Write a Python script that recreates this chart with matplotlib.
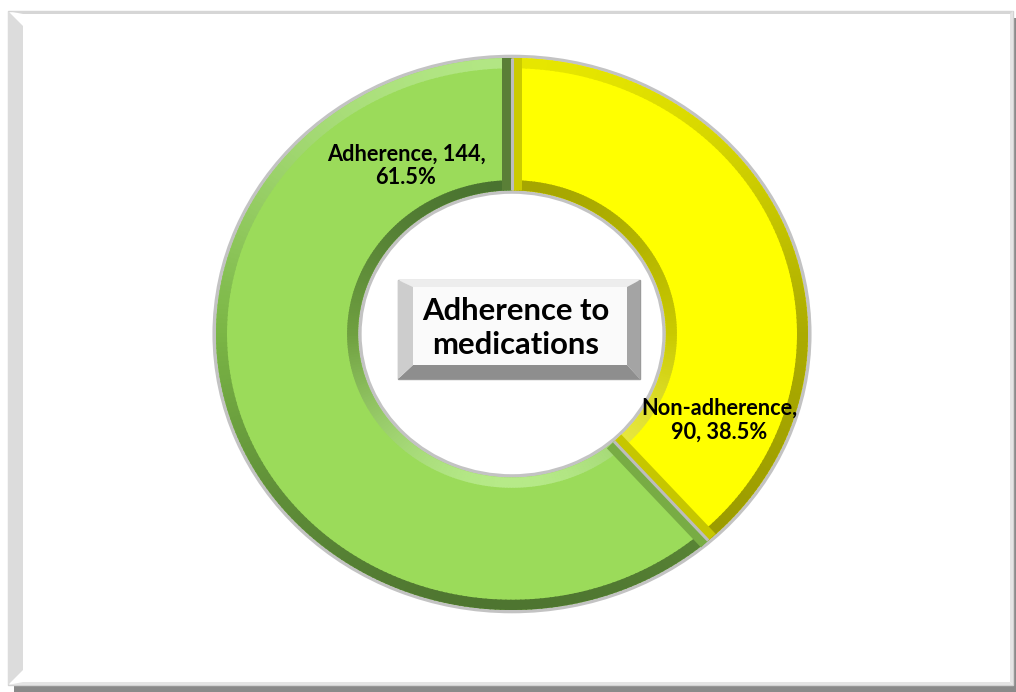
import matplotlib.pyplot as plt
import matplotlib.colors as mcolors
import numpy as np
from matplotlib.patches import Polygon, Rectangle, Wedge

# adherence counts
categories = ["Non-adherence", "Adherence"]
counts = [90, 144]
title_text = "Adherence to\nmedications"

# slice colours: main face, then outer/inner bevel ramps (dark, mid, light)
face_colors = ["#FFFF00", "#9BDB5A"]
outer_ramps = [("#969600", "#ABAB00", "#E6E600"), ("#4E7530", "#7AB545", "#B2E684")]
inner_ramps = [("#A6A600", "#CACA00", "#F2F25A"), ("#4A7330", "#6FA040", "#B6EA88")]
side_colors = ["#C6C600", ("#5A7F37", "#78AC44")]

W, H = 1016, 692
FONT = ["Lato", "DejaVu Sans"]

fig = plt.figure(figsize=(W / 100, H / 100), dpi=100)


def pixel_axes():
    a = fig.add_axes([0, 0, 1, 1])
    a.set_xlim(0, W)
    a.set_ylim(H, 0)
    a.axis("off")
    a.patch.set_alpha(0)
    return a


bg = pixel_axes()

# chart area frame with drop shadow and a light bevel
bg.add_patch(Rectangle((14, 18), W - 14, H - 18, fc="#8A8A8A", ec="none", zorder=0))
bg.add_patch(Rectangle((8, 11), 1005, 674, fc="white", ec="#D2D2D2", lw=1, zorder=1))
bg.add_patch(Polygon([(8, 11), (23, 26), (23, 670), (8, 685)], fc="#DCDCDC", ec="none", zorder=1))
bg.add_patch(Polygon([(8, 11), (1013, 11), (1011, 14), (23, 14)], fc="#D6D6D6", ec="none", zorder=1))
bg.add_patch(Polygon([(1013, 11), (1013, 685), (1010, 682), (1010, 14)], fc="#E4E4E4", ec="none", zorder=1))
bg.add_patch(Polygon([(8, 685), (1013, 685), (1010, 682), (23, 682)], fc="#E4E4E4", ec="none", zorder=1))

# donut, drawn in its own axes so the ring can be an ellipse
cx, cy, rx, ry = 512, 334, 296, 276
pad = 1.1
ax = fig.add_axes([(cx - pad * rx) / W, (H - cy - pad * ry) / H,
                   2 * pad * rx / W, 2 * pad * ry / H])
ring_width = 0.48
r_in = 1 - ring_width

wedges, _ = ax.pie(counts, colors=face_colors, startangle=90, counterclock=False,
                   radius=1, wedgeprops=dict(width=ring_width, linewidth=0))
for w in wedges:
    w.set_zorder(2)
ax.set_aspect("auto")
ax.set_xlim(-pad, pad)
ax.set_ylim(-pad, pad)
ax.axis("off")

# soft grey halo around both ring edges
ax.add_patch(Wedge((0, 0), 1.012, 0, 360, width=1.012 - (r_in - 0.012),
                   fc="#B4B4B4", ec="none", alpha=0.8, zorder=1))


def ramp(colors, t):
    dark, mid, light = (np.array(mcolors.to_rgb(c)) for c in colors)
    if t < 0:
        return mid + (dark - mid) * (-t)
    return mid + (light - mid) * t


band = 11 / rx
for w, out_c, in_c in zip(wedges, outer_ramps, inner_ramps):
    t1, t2 = w.theta1, w.theta2
    edges = np.linspace(t1, t2, int(abs(t2 - t1)) + 2)
    for a, b in zip(edges[:-1], edges[1:]):
        mid = np.deg2rad((a + b) / 2)
        # light comes from above
        ax.add_patch(Wedge((0, 0), 1.0, a, b + 0.3, width=band,
                           fc=ramp(out_c, np.sin(mid)), ec="none", zorder=3))
        ax.add_patch(Wedge((0, 0), r_in + band, a, b + 0.3, width=band,
                           fc=ramp(in_c, -np.sin(mid)), ec="none", zorder=3))


def side_face(theta, width_px, color):
    th = np.deg2rad(theta)
    d = np.array([rx * np.cos(th), ry * np.sin(th)])
    n = np.array([-d[1], d[0]]) / np.hypot(*d)
    off = np.array([n[0] * width_px / rx, n[1] * width_px / ry])
    p_in = np.array([r_in * np.cos(th), r_in * np.sin(th)])
    p_out = np.array([np.cos(th), np.sin(th)])
    ax.add_patch(Polygon([p_in, p_out, p_out + off, p_in + off],
                         fc=color, ec="none", zorder=4))


# side faces where the slices meet, plus the thin gap between them
yellow, green = wedges
side_face(yellow.theta2, -10, "#CBCB00")
side_face(yellow.theta1, 10, side_colors[0])
side_face(green.theta2, -10, side_colors[1][1])
side_face(green.theta1 + 360, 10, side_colors[1][0])
for th in (yellow.theta1, yellow.theta2):
    r = np.deg2rad(th)
    ax.plot([r_in * np.cos(r), np.cos(r)], [r_in * np.sin(r), np.sin(r)],
            color="#BDBDBD", lw=2.2, zorder=5, solid_capstyle="butt")

# overlay for labels and the title box
top = pixel_axes()

total = sum(counts)
label_text = [
    f"{categories[0]},\n{counts[0]}, {counts[0] / total:.1%}",
    f"{categories[1]}, {counts[1]},\n{counts[1] / total:.1%}",
]
label_pos = [(719, 420), (406, 166)]
for text, (x, y) in zip(label_text, label_pos):
    top.text(x, y, text, ha="center", va="center", fontsize=15.7, fontweight="bold",
             family=FONT, linespacing=1.15, zorder=10)

# bevelled title box in the hole
x0, x1, y0, y1 = 398, 640, 280, 379
bl, br, bt, bb = 15, 13, 7, 14
O = [(x0, y0), (x1, y0), (x1, y1), (x0, y1)]
I = [(x0 + bl, y0 + bt), (x1 - br, y0 + bt), (x1 - br, y1 - bb), (x0 + bl, y1 - bb)]
top.add_patch(Polygon(O, fc="#FAFAFA", ec="#9A9A9A", lw=1, zorder=6))
for (i, j), c in zip([(0, 1), (1, 2), (2, 3), (3, 0)],
                     ["#EDEDED", "#A4A4A4", "#8E8E8E", "#CDCDCD"]):
    top.add_patch(Polygon([O[i], O[j], I[j], I[i]], fc=c, ec="none", zorder=7))
top.text(516, 328, title_text, ha="center", va="center", fontsize=22.3,
         fontweight="bold", family=FONT, linespacing=1.25, zorder=8)

fig.savefig("out.png", dpi=100)
